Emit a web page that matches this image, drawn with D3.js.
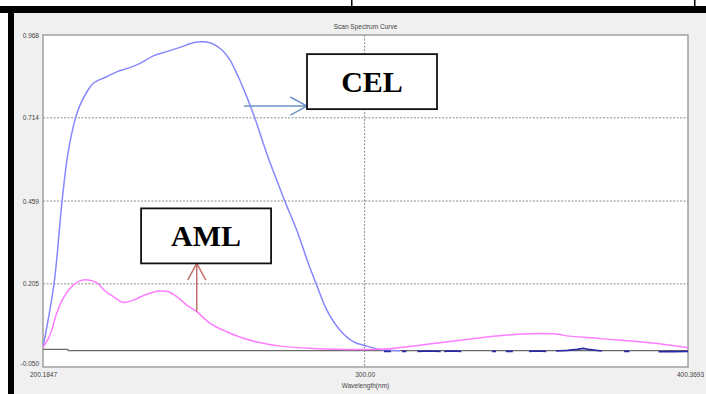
<!DOCTYPE html>
<html><head><meta charset="utf-8">
<script src="https://cdn.jsdelivr.net/npm/d3@7"></script>
<style>body{margin:0;background:#fff}svg{display:block}</style>
</head><body><svg id="c" width="706" height="394"></svg>
<script>
// ---------- data ----------
const chartTitle = "Scan Spectrum Curve";
const xAxisTitle = "Wavelength(nm)";
const xTickVals = [200.1847, 300.00, 400.3693];
const xTickLabels = ["200.1847", "300.00", "400.3693"];
const yTickVals = [0.968, 0.714, 0.459, 0.205, -0.050];
const yTickLabels = ["0.968", "0.714", "0.459", "0.205", "-0.050"];
const gridYVals = [0.714, 0.459, 0.205];
const gridXVals = [300.00];

// CEL (light blue)
const celWl  = [200.18, 203.6, 206.08, 207.94, 210.27, 211.67, 213.84, 215.8, 219.96, 223.06, 227.19, 230.29, 234.42, 238.58, 242.70, 246.83, 249.94, 252.64, 255.74, 258.22, 260.80, 263.41, 265.98, 269.61, 272.72, 275.29, 278.92, 282.52, 285.13, 288.23, 292.36, 296.49, 300.65, 304.78, 310.98];
const celAbs = [0.011, 0.205, 0.457, 0.606, 0.713, 0.753, 0.794, 0.820, 0.840, 0.855, 0.868, 0.881, 0.904, 0.917, 0.930, 0.944, 0.947, 0.942, 0.922, 0.891, 0.840, 0.779, 0.712, 0.605, 0.523, 0.457, 0.370, 0.268, 0.201, 0.125, 0.063, 0.028, 0.014, 0.004, 0.000];

// AML (pink)
const amlWl  = [200.18, 202.36, 204.44, 206.48, 208.56, 211.67, 214.24, 216.85, 219.43, 222.00, 225.11, 228.21, 232.37, 236.50, 239.07, 241.68, 244.78, 247.89, 252.01, 257.20, 262.35, 267.53, 273.74, 284.07, 299.50, 306.33, 326.50, 346.68, 360.64, 361.88, 373.06, 388.58, 400.37];
const amlAbs = [0.010, 0.048, 0.115, 0.161, 0.191, 0.214, 0.217, 0.209, 0.183, 0.166, 0.148, 0.155, 0.173, 0.183, 0.181, 0.166, 0.140, 0.120, 0.084, 0.058, 0.038, 0.025, 0.014, 0.007, 0.004, 0.005, 0.028, 0.050, 0.050, 0.047, 0.037, 0.024, 0.009];

// Baseline (dark grey)
const baseWl  = [200.18, 207.9, 208.0, 400.37];
const baseAbs = [0.004, 0.004, 0.000, 0.000];

// Noisy tail (navy), null = gap
const noiseWl  = [306.0, 308.2, 309.5, 311.6, 313.0, 314.5, 316.4, 320.0, 323.6, 324.1, 324.7, 327.0, 330.0, 335.0, 339.5, 340.8, 342.0, 343.8, 346.0, 348.0, 351.0, 353.5, 356.4, 358.0, 359.4, 363.0, 366.0, 367.8, 370.0, 373.6, 377.0, 380.5, 382.2, 386.0, 391.2, 396.0, 400.37];
const noiseAbs = [-0.002, -0.002, null, -0.002, -0.002, null, -0.002, -0.001, -0.002, null, -0.002, -0.001, -0.002, null, -0.002, -0.002, null, -0.002, -0.002, null, -0.002, -0.001, -0.002, null, -0.001, 0.001, 0.004, 0.007, 0.003, -0.001, null, -0.002, -0.002, null, -0.003, -0.003, -0.002];

// Annotations (data coordinates)
const annLabels = ["CEL", "AML"];
const annBoxWl  = [302.3, 250.8];
const annBoxAbs = [0.825, 0.352];
const annFromWl  = [262.5, 247.9];
const annFromAbs = [0.750, 0.120];
const annColors = ["#6f93c6", "#c4706e"];

// ---------- drawing ----------
const svg = d3.select("#c");
const W = 706, H = 394;

// page frame
svg.append("rect").attr("x",0).attr("y",0).attr("width",W).attr("height",H).attr("fill","#fff");
svg.append("rect").attr("x",14).attr("y",13).attr("width",W-14).attr("height",H-13).attr("fill","#f0f0f0");
svg.append("rect").attr("x",0).attr("y",6).attr("width",W).attr("height",7).attr("fill","#000");
svg.append("rect").attr("x",8).attr("y",6).attr("width",6).attr("height",H-6).attr("fill","#000");
[351, 694].forEach(xx => svg.append("rect").attr("x",xx).attr("y",0).attr("width",1.5).attr("height",7).attr("fill","#000"));

const L = 43, R = 688, T = 35, B = 367;
const x = d3.scaleLinear().domain([200.1847, 400.3693]).range([L, R]);
const y = d3.scaleLinear().domain([-0.050, 0.968]).range([B, T]);

// plot area
svg.append("rect").attr("x",L).attr("y",T).attr("width",R-L).attr("height",B-T)
  .attr("fill","#fff").attr("stroke","#a0a0a0").attr("stroke-width",1.5);

svg.append("defs").append("clipPath").attr("id","clip")
  .append("rect").attr("x",L).attr("y",T).attr("width",R-L).attr("height",B-T);

// grid
const g = svg.append("g");
g.selectAll(".gy").data(gridYVals).enter().append("line")
  .attr("x1",L).attr("x2",R).attr("y1",d=>y(d)).attr("y2",d=>y(d))
  .attr("stroke","#8c8c8c").attr("stroke-width",1).attr("stroke-dasharray","2,1.5");
g.selectAll(".gx").data(gridXVals).enter().append("line")
  .attr("y1",T).attr("y2",B).attr("x1",d=>x(d)).attr("x2",d=>x(d))
  .attr("stroke","#8c8c8c").attr("stroke-width",1).attr("stroke-dasharray","2,1.5");

// axes
const font = "'Liberation Sans', Arial, sans-serif";
const yAxis = d3.axisLeft(y).tickValues(yTickVals).tickFormat((d,i)=>yTickLabels[i]).tickSize(0).tickPadding(4);
const ya = svg.append("g").attr("transform",`translate(${L},0)`).call(yAxis);
ya.select(".domain").remove();
ya.selectAll("text").attr("font-family",font).attr("font-size",6.5).attr("fill","#444")
  .attr("dy",(d,i)=> i===yTickVals.length-1 ? "-0.3em" : "0.32em");

const xAxis = d3.axisBottom(x).tickValues(xTickVals).tickFormat((d,i)=>xTickLabels[i]).tickSize(0).tickPadding(5);
const xa = svg.append("g").attr("transform",`translate(0,${B})`).call(xAxis);
xa.select(".domain").remove();
xa.selectAll("text").attr("font-family",font).attr("font-size",6.5).attr("fill","#444")
  .attr("dx",(d,i)=> i===xTickVals.length-1 ? 2 : 0);

svg.append("text").attr("x",(L+R)/2).attr("y",387.5).attr("text-anchor","middle")
  .attr("font-family",font).attr("font-size",6.5).attr("fill","#444").text(xAxisTitle);
svg.append("text").attr("x",(L+R)/2).attr("y",28.5).attr("text-anchor","middle")
  .attr("font-family",font).attr("font-size",6.5).attr("fill","#444").text(chartTitle);

// series
const lines = svg.append("g").attr("clip-path","url(#clip)");
function draw(wl, ab, color, width, curve) {
  const pts = wl.map((w,i)=>({w, v: ab[i]}));
  const line = d3.line().defined(d=>d.v !== null).x(d=>x(d.w)).y(d=>y(d.v)).curve(curve);
  lines.append("path").datum(pts).attr("d",line).attr("fill","none")
    .attr("stroke",color).attr("stroke-width",width).attr("stroke-linejoin","round");
}
draw(baseWl, baseAbs, "#6a6a6a", 1.3, d3.curveLinear);
draw(celWl, celAbs, "#8787ff", 1.5, d3.curveCatmullRom);
draw(amlWl, amlAbs, "#ff7cff", 1.5, d3.curveCatmullRom);
draw(noiseWl, noiseAbs, "#2a2aa6", 1.7, d3.curveLinear);

// annotations
const boxW = 130, boxH = 55;
annLabels.forEach((lab, i) => {
  const cx = x(annBoxWl[i]), cy = y(annBoxAbs[i]);
  const fx = x(annFromWl[i]), fy = y(annFromAbs[i]);
  let tx, ty;
  if (i === 0) { tx = cx - boxW/2; ty = fy; }
  else { tx = fx; ty = cy + boxH/2; }
  const col = annColors[i];
  svg.append("line").attr("x1",fx).attr("y1",fy).attr("x2",tx).attr("y2",ty)
    .attr("stroke",col).attr("stroke-width",1.5);
  const ang = Math.atan2(ty-fy, tx-fx), hl = 19, ha = 0.5;
  [ang + Math.PI - ha, ang + Math.PI + ha].forEach(a => {
    svg.append("line").attr("x1",tx).attr("y1",ty)
      .attr("x2",tx + hl*Math.cos(a)).attr("y2",ty + hl*Math.sin(a))
      .attr("stroke",col).attr("stroke-width",1.5);
  });
  svg.append("rect").attr("x",cx-boxW/2).attr("y",cy-boxH/2).attr("width",boxW).attr("height",boxH)
    .attr("fill","#fff").attr("stroke","#111").attr("stroke-width",1.8);
  svg.append("text").attr("x",cx).attr("y",cy+10).attr("text-anchor","middle")
    .attr("font-family","'Liberation Serif','Times New Roman',serif").attr("font-weight","bold")
    .attr("font-size",30).attr("fill","#000").text(lab);
});
</script></body></html>
